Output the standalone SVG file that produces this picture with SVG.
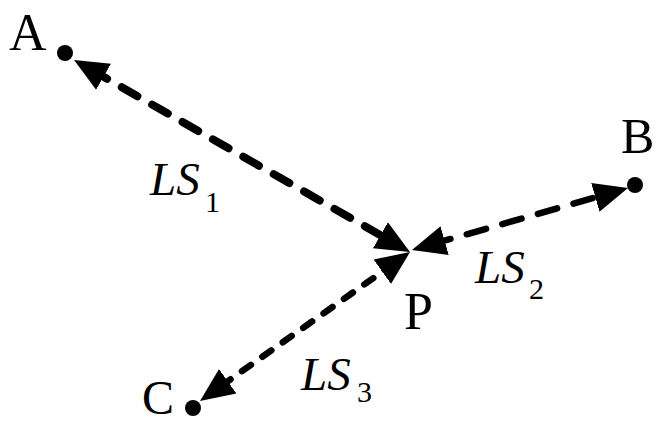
<svg xmlns="http://www.w3.org/2000/svg" width="655" height="425" viewBox="0 0 655 425">
  <style>
    .lbl { font-family: "Liberation Serif", "Times New Roman", serif; font-size: 52px; fill: #000; }
    .ls { font-family: "Liberation Serif", "Times New Roman", serif; font-size: 47px; font-style: italic; fill: #000; }
    .sub { font-family: "Liberation Serif", "Times New Roman", serif; font-size: 30px; font-style: normal; fill: #000; }
    .dot { fill: #000; }
    .conn { fill: none; stroke: #000; stroke-linecap: round; }
  </style>
  <defs>
    <marker id="head" viewBox="0 -16 34 32" markerUnits="userSpaceOnUse" markerWidth="34" markerHeight="32" refX="14" refY="0" orient="auto-start-reverse">
      <path d="M0,-15 L34,0 L0,15 Z" fill="#000"/>
    </marker>
  </defs>
  <rect width="655" height="425" fill="#fff"/>
  <g id="connectors">
    <line id="LS1-line" class="conn" x1="91.4" y1="69.9" x2="392.6" y2="242.1" stroke-width="8" stroke-dasharray="18 17" marker-start="url(#head)" marker-end="url(#head)"/>
    <line id="LS2-line" class="conn" x1="431.2" y1="244.5" x2="608.8" y2="193.5" stroke-width="6.5" stroke-dasharray="20 17" marker-start="url(#head)" marker-end="url(#head)"/>
    <line id="LS3-line" class="conn" x1="393.7" y1="263.6" x2="216.3" y2="389.4" stroke-width="6.5" stroke-dasharray="11 14" marker-start="url(#head)" marker-end="url(#head)"/>
  </g>
  <g id="node-A">
    <circle class="dot" cx="65" cy="53" r="8"/>
    <text class="lbl" x="9" y="50">A</text>
  </g>
  <g id="node-B">
    <circle class="dot" cx="635" cy="185" r="8"/>
    <text class="lbl" x="621" y="153" style="font-size:50px">B</text>
  </g>
  <g id="node-C">
    <circle class="dot" cx="193" cy="408" r="8"/>
    <text class="lbl" x="142" y="414" style="font-size:48px">C</text>
  </g>
  <g id="node-P">
    <text class="lbl" x="404" y="329">P</text>
  </g>
  <g id="labels">
    <text class="ls" x="150" y="195">LS<tspan class="sub" x="205" y="212">1</tspan></text>
    <text class="ls" x="475" y="283">LS<tspan class="sub" x="529" y="299">2</tspan></text>
    <text class="ls" x="301" y="390">LS<tspan class="sub" x="357" y="402">3</tspan></text>
  </g>
</svg>
